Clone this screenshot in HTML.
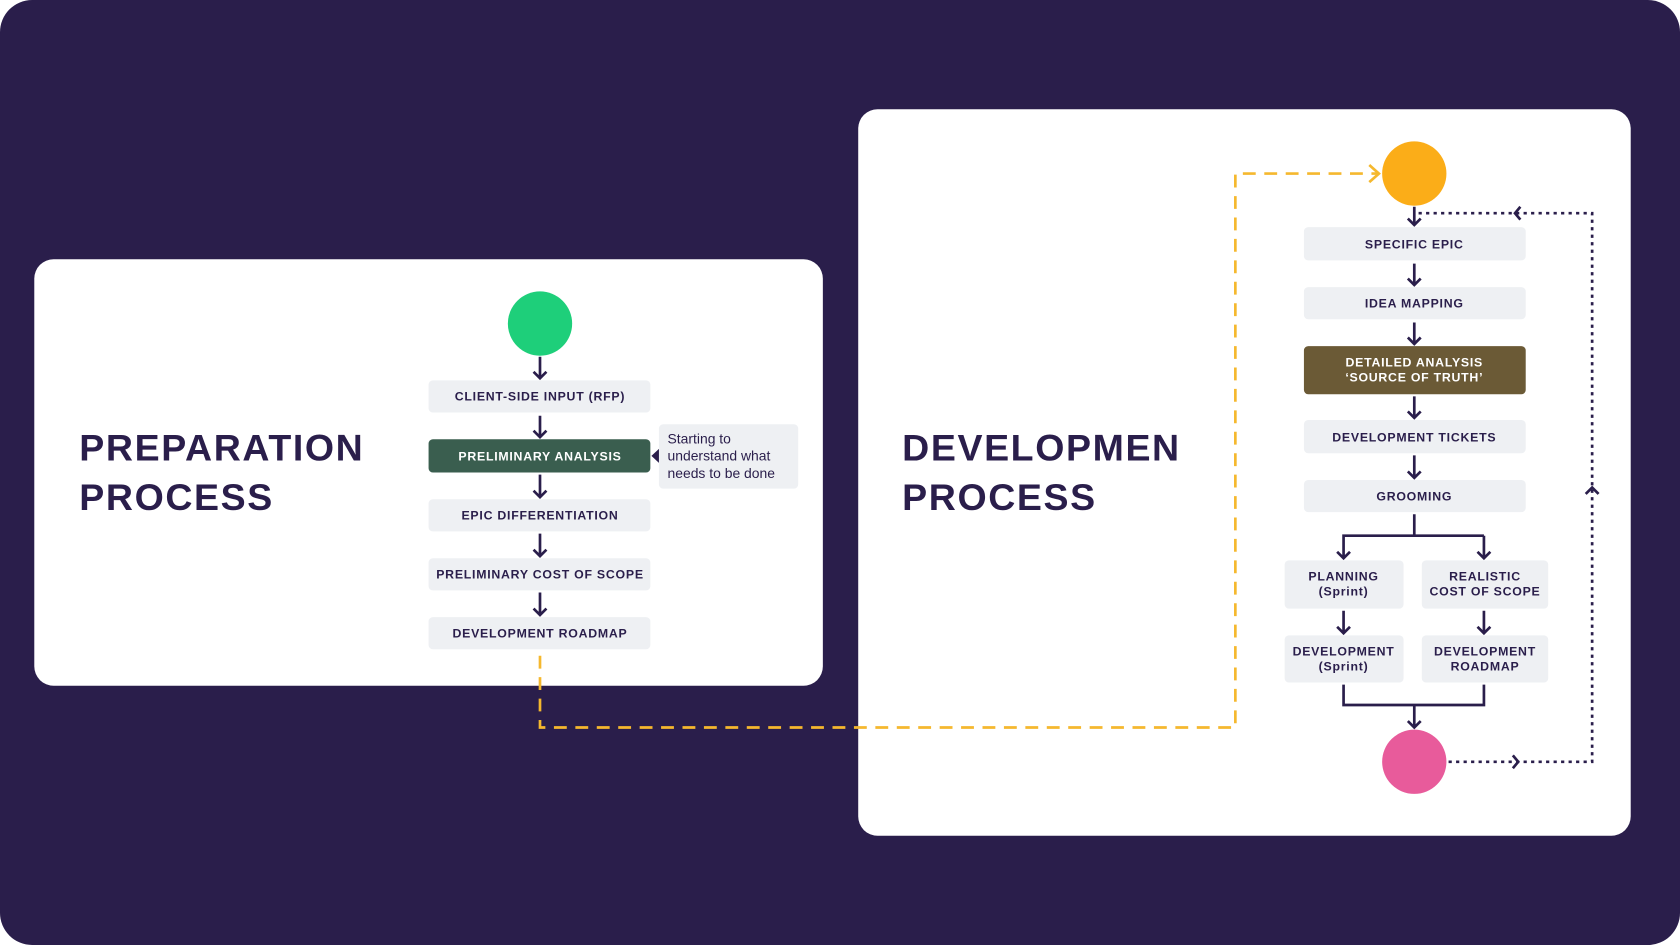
<!DOCTYPE html>
<html><head><meta charset="utf-8"><style>
html,body{margin:0;padding:0;background:#fff;}
svg{display:block;}
text{font-family:"Liberation Sans",sans-serif;}
.b{font-size:11.5px;font-weight:700;fill:#2a1e4b;letter-spacing:0.7px;text-anchor:middle;}
.w{fill:#fff;}
.t{font-size:35px;font-weight:700;fill:#2a1e4b;letter-spacing:1.5px;}
.a{stroke:#2a1e4b;stroke-width:2.5;fill:none;}
</style></head><body>
<svg width="1680" height="945" viewBox="0 0 1568 882" xmlns="http://www.w3.org/2000/svg">
<rect x="0" y="0" width="1568" height="882" rx="30" fill="#2a1e4b"/>
<rect x="32" y="242" width="736" height="398" rx="18" fill="#fff"/>
<rect x="801" y="102" width="721" height="678" rx="18" fill="#fff"/>

<path d="M504 612 V679 H1153 V162 H1286" stroke="#f5b82e" stroke-width="2.5" fill="none" stroke-dasharray="12 8"/>
<polyline points="1278,154 1287,162 1278,170" stroke="#f5b82e" stroke-width="2.5" fill="none"/>

<path d="M1352 711 H1486 V199 H1324" stroke="#2a1e4b" stroke-width="2.5" fill="none" stroke-dasharray="3 4"/>
<polyline points="1412,705 1417,711 1412,717" class="a"/>
<polyline points="1419,193 1414,199 1419,205" class="a"/>
<polyline points="1480,461 1486,455 1492,461" class="a"/>

<text x="74" y="430" class="t">PREPARATION</text>
<text x="74" y="476" class="t">PROCESS</text>
<text x="842" y="430" class="t">DEVELOPMEN</text>
<text x="842" y="476" class="t">PROCESS</text>

<circle cx="504" cy="302" r="30" fill="#1ecf7a"/>
<g>
<rect x="400" y="355" width="207" height="30" rx="4" fill="#eef0f3"/>
<text x="504" y="374" class="b">CLIENT-SIDE INPUT (RFP)</text>
<rect x="400" y="410" width="207" height="31" rx="4" fill="#3a5e4f"/>
<text x="504" y="430" class="b w">PRELIMINARY ANALYSIS</text>
<rect x="400" y="466" width="207" height="30" rx="4" fill="#eef0f3"/>
<text x="504" y="485" class="b">EPIC DIFFERENTIATION</text>
<rect x="400" y="521" width="207" height="30" rx="4" fill="#eef0f3"/>
<text x="504" y="540" class="b">PRELIMINARY COST OF SCOPE</text>
<rect x="400" y="576" width="207" height="30" rx="4" fill="#eef0f3"/>
<text x="504" y="595" class="b">DEVELOPMENT ROADMAP</text>
</g>
<rect x="615" y="396" width="130" height="60" rx="4" fill="#eef0f3"/>
<polygon points="615,419 608,425.5 615,432" fill="#2a1e4b"/>
<text x="623" y="414" font-size="13" fill="#2a1e4b">Starting to</text>
<text x="623" y="430" font-size="13" fill="#2a1e4b">understand what</text>
<text x="623" y="446" font-size="13" fill="#2a1e4b">needs to be done</text>
<g class="a">
<path d="M504 333 V353 M498 347 L504 353 L510 347"/>
<path d="M504 388 V408 M498 402 L504 408 L510 402"/>
<path d="M504 443 V464 M498 458 L504 464 L510 458"/>
<path d="M504 498 V519 M498 513 L504 519 L510 513"/>
<path d="M504 553 V574 M498 568 L504 574 L510 568"/>
</g>

<circle cx="1320" cy="162" r="30" fill="#fbad18"/>
<circle cx="1320" cy="711" r="30" fill="#e85b9b"/>
<rect x="1217" y="212" width="207" height="31" rx="4" fill="#eef0f3"/>
<text x="1320" y="232" class="b">SPECIFIC EPIC</text>
<rect x="1217" y="268" width="207" height="30" rx="4" fill="#eef0f3"/>
<text x="1320" y="287" class="b">IDEA MAPPING</text>
<rect x="1217" y="323" width="207" height="45" rx="4" fill="#6b5a36"/>
<text x="1320" y="342" class="b w">DETAILED ANALYSIS</text>
<text x="1320" y="356" class="b w">‘SOURCE OF TRUTH’</text>
<rect x="1217" y="392" width="207" height="31" rx="4" fill="#eef0f3"/>
<text x="1320" y="412" class="b">DEVELOPMENT TICKETS</text>
<rect x="1217" y="448" width="207" height="30" rx="4" fill="#eef0f3"/>
<text x="1320" y="467" class="b">GROOMING</text>
<rect x="1199" y="523" width="111" height="45" rx="4" fill="#eef0f3"/>
<text x="1254" y="542" class="b">PLANNING</text>
<text x="1254" y="556" class="b">(Sprint)</text>
<rect x="1327" y="523" width="118" height="45" rx="4" fill="#eef0f3"/>
<text x="1386" y="542" class="b">REALISTIC</text>
<text x="1386" y="556" class="b">COST OF SCOPE</text>
<rect x="1199" y="593" width="111" height="44" rx="4" fill="#eef0f3"/>
<text x="1254" y="612" class="b">DEVELOPMENT</text>
<text x="1254" y="626" class="b">(Sprint)</text>
<rect x="1327" y="593" width="118" height="44" rx="4" fill="#eef0f3"/>
<text x="1386" y="612" class="b">DEVELOPMENT</text>
<text x="1386" y="626" class="b">ROADMAP</text>
<g class="a">
<path d="M1320 193 V210 M1314 204 L1320 210 L1326 204"/>
<path d="M1320 246 V266 M1314 260 L1320 266 L1326 260"/>
<path d="M1320 301 V321 M1314 315 L1320 321 L1326 315"/>
<path d="M1320 370 V390 M1314 384 L1320 390 L1326 384"/>
<path d="M1320 425 V446 M1314 440 L1320 446 L1326 440"/>
<path d="M1320 480 V500 H1254 V521 M1385 500 V521 M1320 500 H1385 M1248 515 L1254 521 L1260 515 M1379 515 L1385 521 L1391 515"/>
<path d="M1254 570 V591 M1248 585 L1254 591 L1260 585"/>
<path d="M1385 570 V591 M1379 585 L1385 591 L1391 585"/>
<path d="M1254 639 V658 H1385 V639 M1320 658 V679 M1314 673 L1320 679 L1326 673"/>
</g>
</svg>
</body></html>
